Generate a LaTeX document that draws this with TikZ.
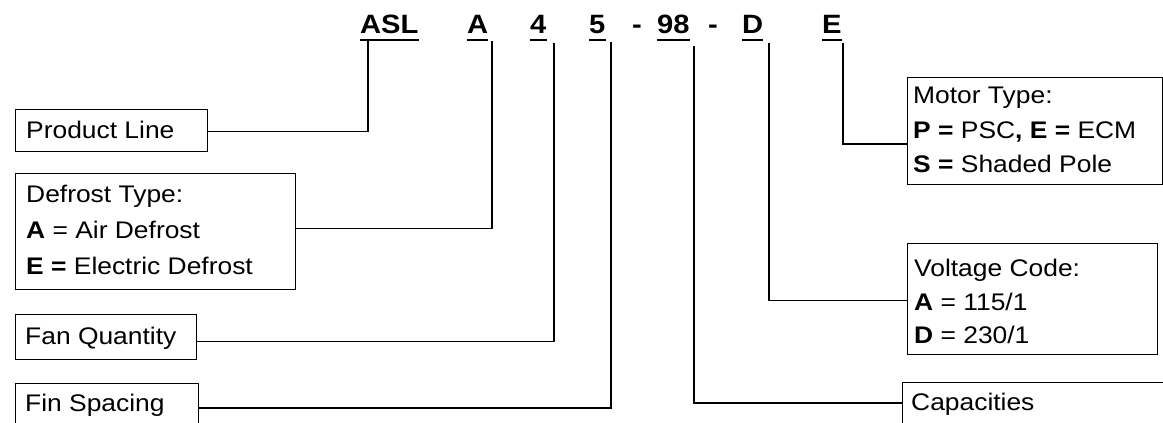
\documentclass[tikz,border=0pt]{standalone}
\usepackage{fontspec}
\setmainfont[FakeStretch=1.1]{Liberation Sans}
\begin{document}
\begin{tikzpicture}[x=1pt,y=-1pt,
  box/.style={draw,line width=1.4pt,inner sep=0pt,anchor=north west},
  txt/.style={anchor=base west,inner sep=0pt,font=\fontsize{24}{28}\selectfont},
  code/.style={anchor=base west,inner sep=0pt,font=\fontsize{26.5}{30}\selectfont\bfseries},
  uline/.style={line width=2.6pt},
  conn/.style={line width=1.5pt}]
\useasboundingbox (0,0) rectangle (1163,423);
\clip (0,0) rectangle (1163,423);

% code header
\node[code] (hASL) at (360,33.5) {ASL};
\node[code] (hA) at (467,33.5) {A};
\node[code] (h4) at (530,33.5) {4};
\node[code] (h5) at (589,33.5) {5};
\node[code] (hd1) at (632,33.5) {-};
\node[code] (h98) at (657,33.5) {98};
\node[code] (hd2) at (708,33.5) {-};
\node[code] (hD) at (742,33.5) {D};
\node[code] (hE) at (822,33.5) {E};
\foreach \n in {hASL,hA,h4,h5,h98,hD,hE}
  \draw[uline] ([yshift=-6.5pt]\n.base west) -- ([yshift=-6.5pt]\n.base east);

% boxes
\node[box,minimum width=192pt,minimum height=42pt] (prod) at (15,109) {};
\node[box,minimum width=280pt,minimum height=116pt] (defrost) at (15,173) {};
\node[box,minimum width=181pt,minimum height=45pt] (fan) at (15,314) {};
\node[box,minimum width=183pt,minimum height=60pt] (fin) at (15,383) {};
\node[box,minimum width=255pt,minimum height=107pt] (motor) at (907,77) {};
\node[box,minimum width=250pt,minimum height=111pt] (volt) at (907,243) {};
\node[box,minimum width=300pt,minimum height=60pt] (cap) at (902,382) {};

% texts
\node[txt] (tprod) at (26,138) {Product Line};
\node[txt] (tdef1) at (26,202) {Defrost Type:};
\node[txt] (tdef2) at (26,238) {\textbf{A} = Air Defrost};
\node[txt] (tdef3) at (26,274) {\textbf{E =} Electric Defrost};
\node[txt] (tfan) at (25,344) {Fan Quantity};
\node[txt] (tfin) at (25,411) {Fin Spacing};
\node[txt] (tmot1) at (913,103) {Motor Type:};
\node[txt] (tmot2) at (913,138) {\textbf{P =} PSC\textbf{, E =} ECM};
\node[txt] (tmot3) at (913,172) {\textbf{S =} Shaded Pole};
\node[txt] (tvol1) at (914,276) {Voltage Code:};
\node[txt] (tvol2) at (914,310) {\textbf{A} = 115/1};
\node[txt] (tvol3) at (914,343) {\textbf{D} = 230/1};
\node[txt] (tcap) at (911,410) {Capacities};

% connector tops
\coordinate (cASL) at (368,40);
\coordinate (cA) at (492,41);
\coordinate (c4) at (554,43);
\coordinate (c5) at (611,42);
\coordinate (c98) at (694,46);
\coordinate (cD) at (769,43);
\coordinate (cE) at (843,43);

% connectors
\draw[conn] (cASL) |- ([yshift=-1pt]prod.east);
\draw[conn] (cA) |- ([yshift=3pt]defrost.east);
\draw[conn] (c4) |- ([yshift=-4.5pt]fan.east);
\draw[conn] (c5) |- ([yshift=-25pt]fin.north east);
\draw[conn] (c98) |- ([yshift=-21pt]cap.north west);
\draw[conn] (cD) |- ([yshift=-1.5pt]volt.west);
\draw[conn] (cE) |- ([yshift=-67pt]motor.north west);
\end{tikzpicture}
\end{document}
